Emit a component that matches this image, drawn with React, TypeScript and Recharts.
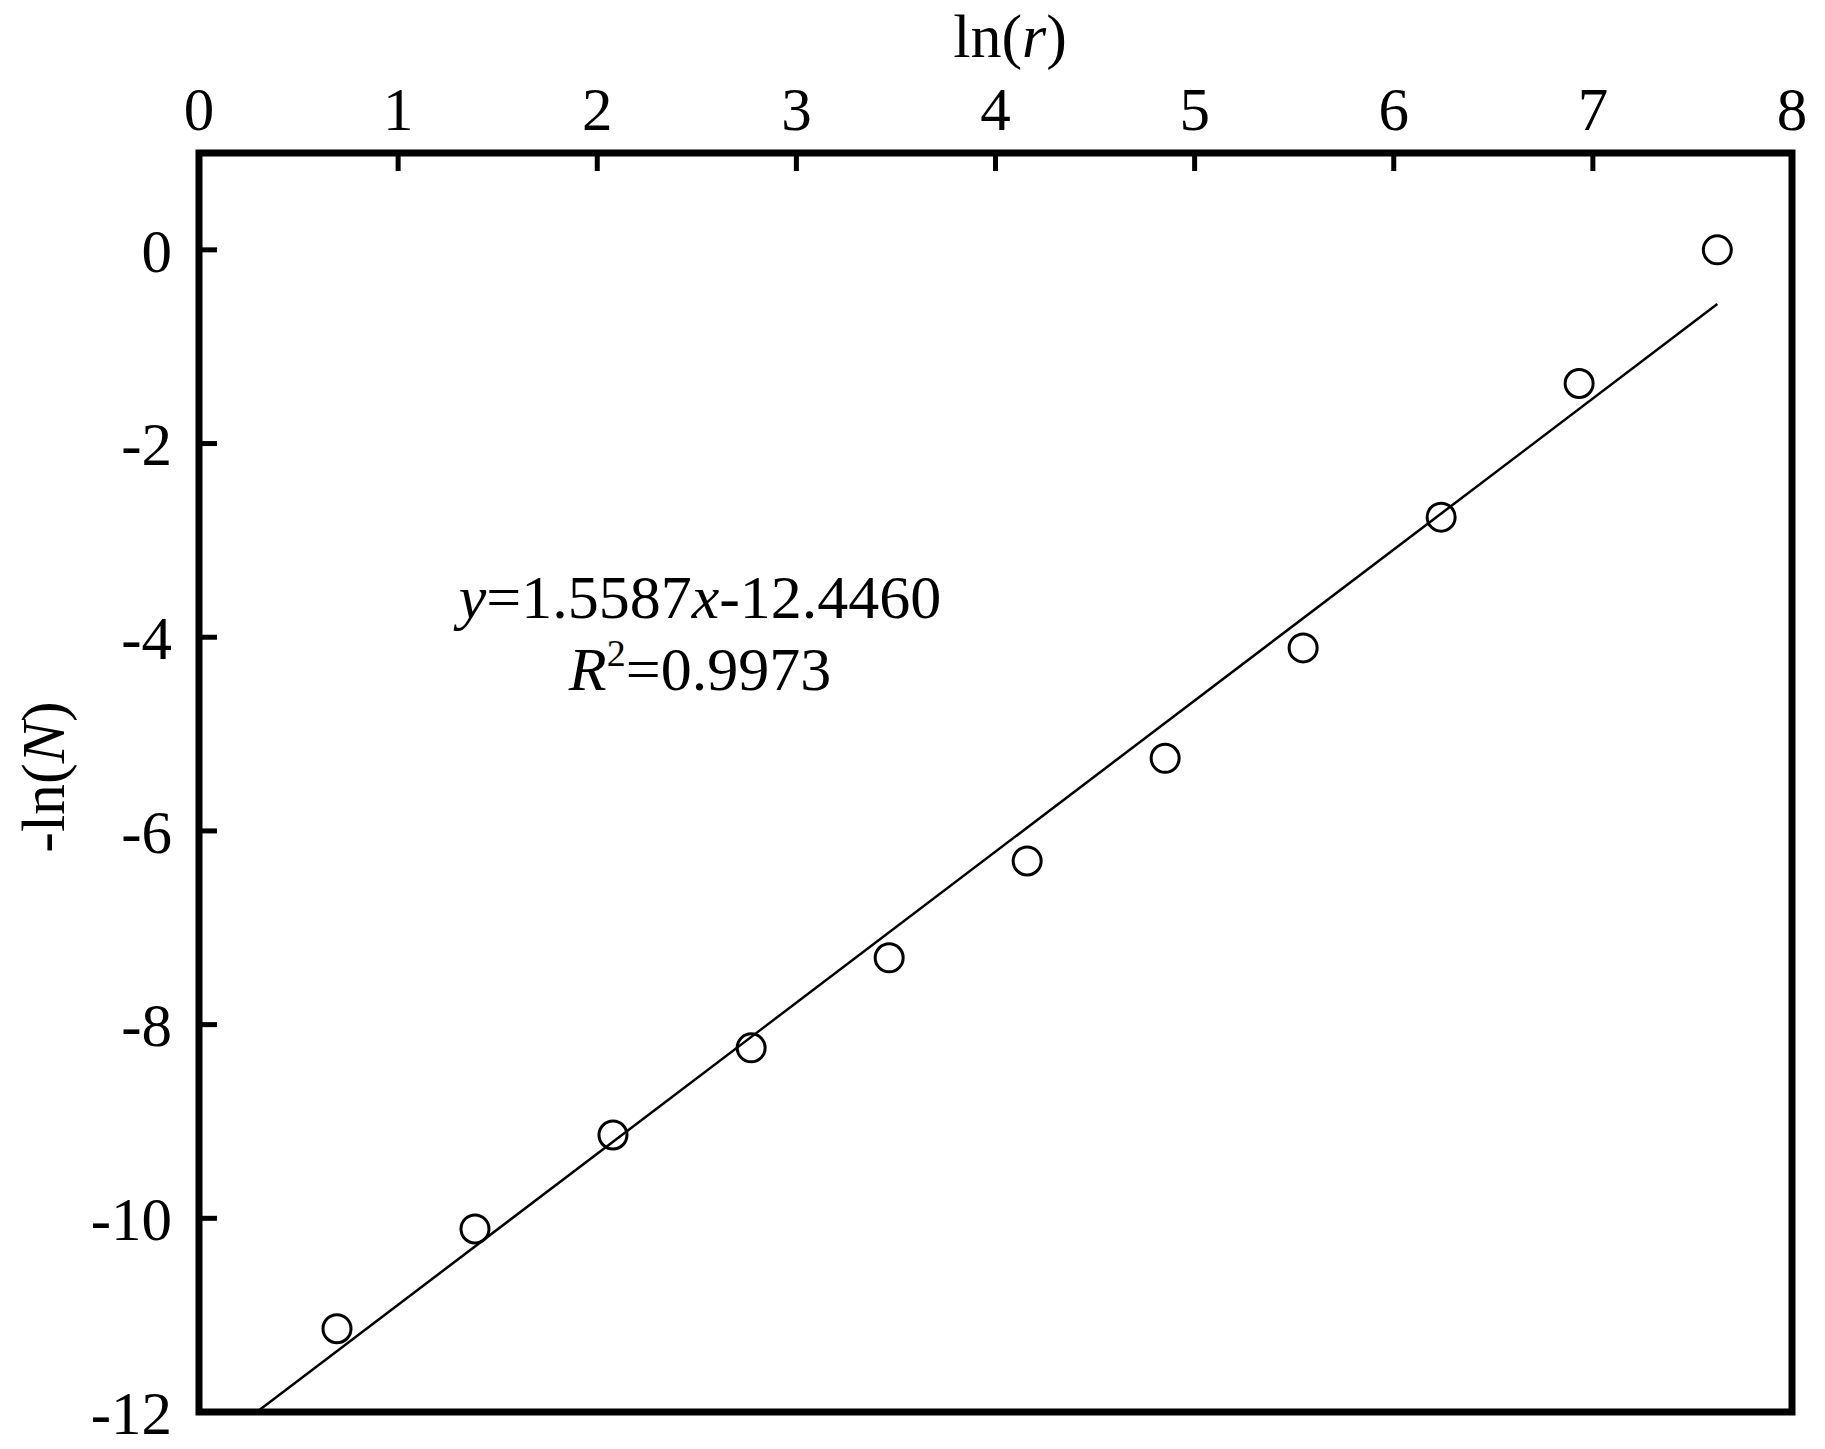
import {
  ScatterChart,
  Scatter,
  XAxis,
  YAxis,
  ReferenceArea,
} from "recharts";

// ln(r) values of the measured points
const lnR = [0.693, 1.386, 2.079, 2.773, 3.466, 4.159, 4.852, 5.545, 6.238, 6.931, 7.625];
// -ln(N) values
const negLnN = [-11.14, -10.11, -9.14, -8.24, -7.31, -6.31, -5.25, -4.11, -2.76, -1.38, 0.0];

// end points of the fitted line y=1.5587x-12.4460 as drawn
const fitX = [0.29, 7.625];
const fitY = [-12.0, -0.56];

const X_TICKS = [0, 1, 2, 3, 4, 5, 6, 7, 8];
const Y_TICKS = [0, -2, -4, -6, -8, -10, -12];

const FONT = "'Liberation Serif', 'Times New Roman', serif";
const W = 1825;
const H = 1449;

const points = lnR.map((x, i) => ({ x, y: negLnN[i] }));
const fitLine = fitX.map((x, i) => ({ x, y: fitY[i] }));

function RingDot(props: any) {
  const { cx, cy } = props;
  if (cx == null || cy == null) return <g />;
  return <circle cx={cx} cy={cy} r={14} fill="none" stroke="#000" strokeWidth={3} />;
}

export default function App() {
  const tickStyle = { fontSize: 61, fill: "#000", fontFamily: FONT };

  return (
    <div style={{ position: "absolute", left: 0, top: 0, width: W, height: H, background: "#fff" }}>
      <ScatterChart
        width={W}
        height={H}
        margin={{ top: 13, left: 19, right: 33, bottom: 37 }}
      >
        <XAxis
          type="number"
          dataKey="x"
          orientation="top"
          domain={[0, 8]}
          ticks={X_TICKS}
          height={140}
          axisLine={false}
          tickSize={-18}
          tickMargin={41}
          tickLine={{ stroke: "#000", strokeWidth: 5 }}
          tick={tickStyle}
          allowDataOverflow
        />
        <YAxis
          type="number"
          dataKey="y"
          domain={[-12, 1]}
          ticks={Y_TICKS}
          width={180}
          axisLine={false}
          tickSize={-18}
          tickMargin={45}
          tickLine={{ stroke: "#000", strokeWidth: 5 }}
          tick={tickStyle}
          allowDataOverflow
        />
        <ReferenceArea
          x1={0}
          x2={8}
          y1={-12}
          y2={1}
          fill="none"
          fillOpacity={0}
          stroke="#000"
          strokeWidth={7}
          ifOverflow="visible"
        />
        <Scatter
          data={fitLine}
          line={{ stroke: "#000", strokeWidth: 2.5 }}
          lineType="joint"
          shape={() => <g />}
          isAnimationActive={false}
        />
        <Scatter data={points} shape={RingDot} isAnimationActive={false} />
      </ScatterChart>

      <svg
        width={W}
        height={H}
        style={{ position: "absolute", left: 0, top: 0, pointerEvents: "none" }}
        fontFamily={FONT}
        fill="#000"
      >
        <text x={1010} y={57} fontSize={62} textAnchor="middle">
          ln(<tspan fontStyle="italic">r</tspan>)
        </text>
        <text x={64} y={777} fontSize={62} textAnchor="middle" transform="rotate(-90 64 777)">
          -ln(<tspan fontStyle="italic">N</tspan>)
        </text>
        <text x={700} y={618} fontSize={62} textAnchor="middle">
          <tspan fontStyle="italic">y</tspan>=1.5587<tspan fontStyle="italic">x</tspan>-12.4460
        </text>
        <text x={700} y={690} fontSize={62} textAnchor="middle">
          <tspan fontStyle="italic">R</tspan>
          <tspan fontSize={38} dy={-24}>2</tspan>
          <tspan dy={24}>=0.9973</tspan>
        </text>
      </svg>
    </div>
  );
}
